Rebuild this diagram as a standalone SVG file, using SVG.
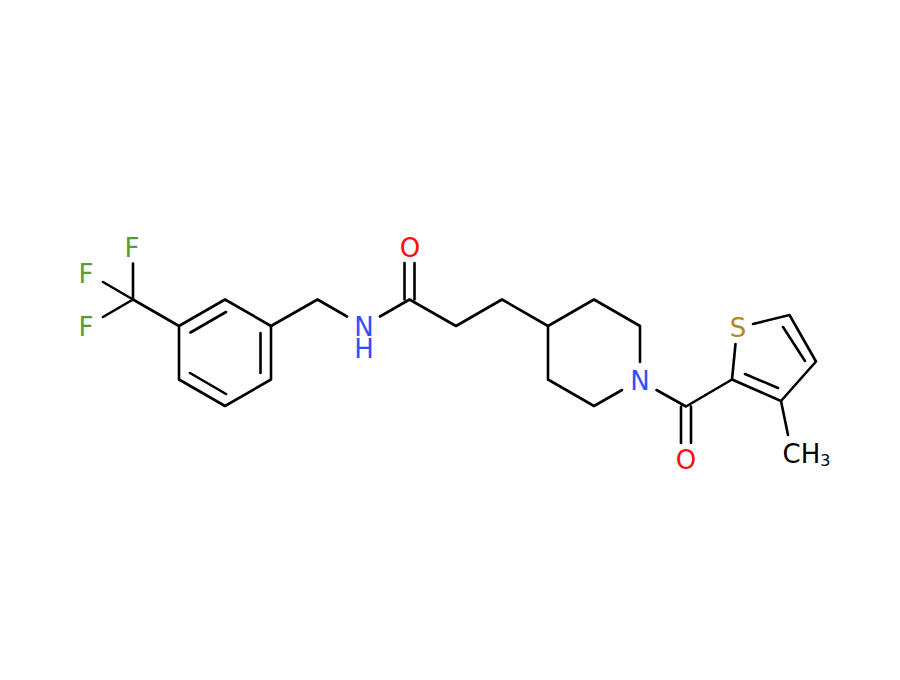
<svg xmlns="http://www.w3.org/2000/svg" width="900" height="680" viewBox="0 0 900 680">
<style>
.b{fill:none;stroke:#000;stroke-width:2.6;stroke-linecap:round;stroke-linejoin:round}
text{font-family:"DejaVu Sans",sans-serif;font-size:26px;text-anchor:middle}
.sub{font-size:16px;text-anchor:start}
.f{fill:#5d9a32}.n{fill:#3050f8}.o{fill:#ff0d0d}.s{fill:#b08a1f}.c{fill:#000}
</style>
<rect width="900" height="680" fill="#fff"/>
<g id="connectors" class="b">
<path d="M133 299.5V263.5M133 299.5L103 282M133 299.5L103 317M133 299.5L179 326"/>
<path d="M179 326L225 299.5L271 326V379.5L225 406L179 379.5ZM190.500 332.500L226 312M260.500 333V373M190 373L226 394"/>
<path d="M271 326L317.500 299.500L347 316.500M380 316.500L409.500 299.500L456 326L502 299.500L548 326"/>
<path d="M404.500 299.500V263M414.500 299.500V263"/>
<path d="M548 326L594 299.500L640 326V362M548 326V379.500L594 406L622 390"/>
<path d="M656.500 390L686 406.500L732 379.500M681 406.500V443M691 406.500V443"/>
<path d="M732 379.500L735.500 344M753 324L789.500 315L816 361.500L781 401L732 379.500M783 327L805 361M745 374L778 388M781 401L788 435"/>
</g>
<g id="F1"><text class="f" x="132" y="257">F</text></g>
<g id="F2"><text class="f" x="86" y="283">F</text></g>
<g id="F3"><text class="f" x="86" y="336">F</text></g>
<g id="NH"><text class="n" x="364" y="336">N</text><text class="n" x="364" y="357.500">H</text></g>
<g id="O1"><text class="o" x="410" y="257">O</text></g>
<g id="N2"><text class="n" x="640" y="390">N</text></g>
<g id="O2"><text class="o" x="686" y="469">O</text></g>
<g id="S"><text class="s" x="738" y="337">S</text></g>
<g id="CH3"><text class="c" x="782.500" y="463" style="text-anchor:start">CH<tspan class="sub" dy="3">3</tspan></text></g>
</svg>
